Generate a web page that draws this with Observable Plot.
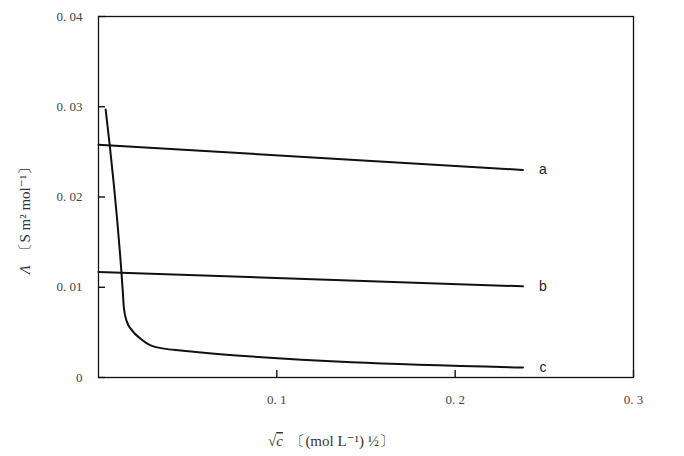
<!DOCTYPE html>
<html>
<head>
<meta charset="utf-8">
<script src="https://cdn.jsdelivr.net/npm/d3@7"></script>
<script src="https://cdn.jsdelivr.net/npm/@observablehq/plot@0.6"></script>
<style>
  html, body { margin: 0; padding: 0; background: #fff; }
  #chart svg { display: block; }
</style>
</head>
<body>
<div id="chart"></div>
<script>
// Series labels
const seriesNames = ["a", "b", "c"];
// Line a
const aX = [0, 0.238];
const aY = [0.0258, 0.0230];
// Line b
const bX = [0, 0.238];
const bY = [0.0117, 0.0101];
// Curve c
const cX = [0.004, 0.0136, 0.0142, 0.0157, 0.0189, 0.0236, 0.0292, 0.0366, 0.046, 0.238];
const cY = [0.0297, 0.0096, 0.0078, 0.0063, 0.0052, 0.0043, 0.00355, 0.0032, 0.0030, 0.0011];
// Tick values
const xTicks = [0.1, 0.2, 0.3];
const yTicks = [0, 0.01, 0.02, 0.03, 0.04];

const toRows = (name, xs, ys) => xs.map((x, i) => ({series: name, x, y: ys[i]}));
const rows = [
  ...toRows(seriesNames[0], aX, aY),
  ...toRows(seriesNames[1], bX, bY),
  ...toRows(seriesNames[2], cX, cY)
];
const ends = [
  {series: seriesNames[0], x: aX[aX.length - 1], y: aY[aY.length - 1]},
  {series: seriesNames[1], x: bX[bX.length - 1], y: bY[bY.length - 1]},
  {series: seriesNames[2], x: cX[cX.length - 1], y: cY[cY.length - 1]}
];

const fmtY = d => d === 0 ? "0" : d.toFixed(2).replace(".", ". ");
const fmtX = d => d.toFixed(1).replace(".", ". ");
const serif = "'Liberation Serif', 'DejaVu Serif', serif";

const chart = Plot.plot({
  width: 684,
  height: 456,
  marginLeft: 98,
  marginRight: 51,
  marginTop: 16,
  marginBottom: 79,
  style: {fontFamily: serif, fontSize: "13px", color: "#333", background: "#fff"},
  x: {domain: [0, 0.3], axis: null},
  y: {domain: [0, 0.04], axis: null},
  marks: [
    // inward tick marks
    Plot.tickX(xTicks, {x: d => d, insetTop: 354, stroke: "#000", strokeWidth: 1.3}),
    Plot.tickY(yTicks, {y: d => d, insetRight: 528, stroke: "#000", strokeWidth: 1.3}),
    // tick labels
    Plot.axisX(xTicks, {tickSize: 0, tickPadding: 17, tickFormat: fmtX, label: null, fill: "#444"}),
    Plot.axisY(yTicks, {tickSize: 0, tickPadding: 16, tickFormat: fmtY, label: null, fill: "#444"}),
    Plot.frame({stroke: "#111", strokeWidth: 1.3}),
    Plot.line(rows, {x: "x", y: "y", z: "series", stroke: "#111", strokeWidth: 2, curve: "monotone-x"}),
    Plot.text(ends, {x: "x", y: "y", text: "series", dx: 20, textAnchor: "middle",
      fontFamily: "'Liberation Sans', Arial, sans-serif", fontSize: 14, fill: "#222"})
  ]
});
document.getElementById("chart").appendChild(chart);

// Axis titles with rich text
const svg = d3.select(chart);
const yl = svg.append("text")
  .attr("transform", "translate(30,217) rotate(-90)")
  .attr("text-anchor", "middle")
  .attr("font-family", serif)
  .attr("font-size", 15)
  .attr("fill", "#333");
yl.append("tspan").attr("font-style", "italic").text("Λ");
yl.append("tspan").text("\u2002〔S m² mol⁻¹〕");

const xl = svg.append("text")
  .attr("x", 331)
  .attr("y", 446)
  .attr("text-anchor", "middle")
  .attr("font-family", serif)
  .attr("font-size", 15)
  .attr("fill", "#333");
xl.append("tspan").text("√");
xl.append("tspan").attr("font-style", "italic").attr("text-decoration", "overline").text("c");
xl.append("tspan").text("\u2002〔(mol L⁻¹) ½〕");
</script>
</body>
</html>
